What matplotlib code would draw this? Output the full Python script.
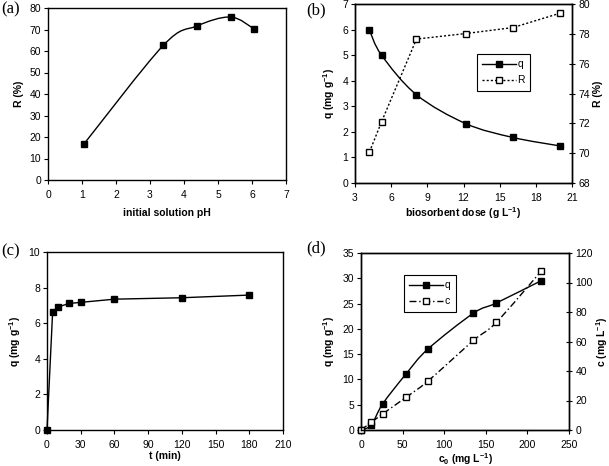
import matplotlib
matplotlib.use("Agg")
import matplotlib.pyplot as plt
from matplotlib.path import Path
from matplotlib.patches import PathPatch
from matplotlib.lines import Line2D
import numpy as np

plt.rcParams['font.family'] = ['Liberation Sans', 'DejaVu Sans']
plt.rcParams['font.size'] = 7.5
plt.rcParams['mathtext.default'] = 'regular'

# (a) effect of pH
ph = [1.06, 3.39, 4.37, 5.37, 6.07]
r_ph = [16.8, 62.6, 71.6, 75.8, 70.2]

# (b) effect of biosorbent dose
dose = [4.2, 5.2, 8.1, 12.2, 16.1, 20.0]
q_dose = [5.98, 5.0, 3.45, 2.32, 1.78, 1.45]
r_dose = [70.08, 72.1, 77.65, 78.02, 78.42, 79.38]

# (c) contact time
t_min = [0, 5, 10, 20, 30, 60, 120, 180]
q_t = [0, 6.62, 6.92, 7.11, 7.17, 7.35, 7.43, 7.58]

# (d) initial concentration
c0 = [0, 12.4, 26.0, 54.2, 80.7, 135.2, 162.5, 216.3]
q_c0 = [0, 1.0, 5.15, 11.1, 16.05, 23.1, 25.1, 29.5]
c_eq = [0, 5.2, 10.9, 22.2, 33.3, 60.7, 72.9, 107.5]


def smooth(ax, x, y, **kw):
    # Excel-like smoothed line, drawn as cubic bezier segments
    x = np.asarray(x, float)
    y = np.asarray(y, float)
    pts = np.column_stack([x, y])
    n = len(pts)
    verts = [pts[0]]
    codes = [Path.MOVETO]
    for i in range(n - 1):
        p0 = pts[i - 1] if i > 0 else pts[i]
        p1 = pts[i]
        p2 = pts[i + 1]
        p3 = pts[i + 2] if i + 2 < n else pts[i + 1]
        c1 = p1 + (p2 - p0) / 6.0
        c2 = p2 - (p3 - p1) / 6.0
        verts += [c1, c2, p2]
        codes += [Path.CURVE4] * 3
    ax.add_patch(PathPatch(Path(verts, codes), fill=False, **kw))


def style(ax):
    for s in ax.spines.values():
        s.set_linewidth(1.0)
    ax.tick_params(direction='out', length=3, width=0.8, pad=2, labelsize=7.5)
    ax.tick_params(axis='x', pad=4)


fig = plt.figure(figsize=(6.09, 4.66), dpi=100)
W, H = 609.0, 466.0


def box(l, r, t, b):
    return [l / W, (H - b) / H, (r - l) / W, (b - t) / H]


ms = 4.6
lab = dict(fontweight='bold', fontsize=7.5)

# ---- (a)
ax = fig.add_axes(box(48, 286, 8, 180))
smooth(ax, ph, r_ph, color='black', lw=1.0)
ax.plot(ph, r_ph, ls='none', marker='s', ms=ms, color='black')
ax.set_xlim(0, 7)
ax.set_ylim(0, 80)
ax.set_xticks(range(0, 8))
ax.set_yticks(range(0, 81, 10))
ax.set_xlabel('initial solution pH', labelpad=6, **lab)
ax.set_ylabel('R (%)', labelpad=4, **lab)
style(ax)

# ---- (b)
ax = fig.add_axes(box(355, 572, 4, 183))
smooth(ax, dose, q_dose, color='black', lw=1.0)
ax.plot(dose, q_dose, ls='none', marker='s', ms=ms, color='black')
ax.set_xlim(3, 21)
ax.set_ylim(0, 7)
ax.set_xticks(range(3, 22, 3))
ax.set_yticks(range(0, 8))
ax.set_xlabel('biosorbent dose (g L$^{-1}$)', labelpad=2, **lab)
ax.set_ylabel('q (mg g$^{-1}$)', labelpad=4, **lab)
style(ax)
ax2 = ax.twinx()
ax2.plot(dose, r_dose, ls=(0, (1.5, 1.5)), lw=1.0, marker='s', ms=ms,
         color='black', mfc='white')
ax2.set_ylim(68, 80)
ax2.set_yticks(range(68, 81, 2))
ax2.set_ylabel('R (%)', labelpad=2, **lab)
style(ax2)
ax2.tick_params(axis='y', direction='inout', length=5)
hq = Line2D([], [], color='black', lw=1.0, marker='s', ms=ms)
hr = Line2D([], [], color='black', lw=1.0, ls=(0, (1.5, 1.5)), marker='s',
            ms=ms, mfc='white')
leg = ax2.legend([hq, hr], ['q', 'R'], loc='upper left',
                 bbox_to_anchor=((477 - 355) / 217.0, 1 - (54 - 4) / 179.0),
                 fancybox=False, framealpha=1, edgecolor='black',
                 handlelength=3.2, handletextpad=0.2, borderpad=0.5,
                 labelspacing=0.6, fontsize=7.5, borderaxespad=0)
leg.get_frame().set_linewidth(0.8)

# ---- (c)
ax = fig.add_axes(box(47, 283, 252, 430))
ax.plot(t_min, q_t, color='black', lw=1.0, marker='s', ms=ms, clip_on=False)
ax.set_xlim(0, 210)
ax.set_ylim(0, 10)
ax.set_xticks(range(0, 211, 30))
ax.set_yticks(range(0, 11, 2))
ax.set_xlabel('t (min)', labelpad=1, **lab)
ax.set_ylabel('q (mg g$^{-1}$)', labelpad=4, **lab)
style(ax)

# ---- (d)
ax = fig.add_axes(box(361, 569, 253, 430))
smooth(ax, c0, q_c0, color='black', lw=1.0)
ax.plot(c0, q_c0, ls='none', marker='s', ms=ms, color='black', clip_on=False)
ax.set_xlim(0, 250)
ax.set_ylim(0, 35)
ax.set_xticks(range(0, 251, 50))
ax.set_yticks(range(0, 36, 5))
ax.set_xlabel('c$_0$ (mg L$^{-1}$)', labelpad=1, **lab)
ax.set_ylabel('q (mg g$^{-1}$)', labelpad=4, **lab)
style(ax)
ax2 = ax.twinx()
dashdot = (0, (5, 2, 1, 2))
smooth(ax2, c0, c_eq, color='black', lw=1.0, ls=dashdot)
ax2.plot(c0, c_eq, ls='none', marker='s', ms=ms, color='black', mfc='white',
         clip_on=False)
ax2.set_ylim(0, 120)
ax2.set_yticks(range(0, 121, 20))
ax2.set_ylabel('c (mg L$^{-1}$)', labelpad=1, **lab)
style(ax2)
ax2.tick_params(axis='y', direction='inout', length=5)
hc = Line2D([], [], color='black', lw=1.0, ls=dashdot, marker='s', ms=ms,
            mfc='white')
leg = ax2.legend([hq, hc], ['q', 'c'], loc='upper left',
                 bbox_to_anchor=((404 - 361) / 208.0, 1 - (275 - 253) / 177.0),
                 fancybox=False, framealpha=1, edgecolor='black',
                 handlelength=3.2, handletextpad=0.2, borderpad=0.5,
                 labelspacing=0.6, fontsize=7.5, borderaxespad=0)
leg.get_frame().set_linewidth(0.8)

# panel letters
pl = dict(family=['Liberation Serif', 'DejaVu Serif'], fontsize=12,
          va='center', ha='left')
fig.text(1 / W, 1 - 9 / H, '(a)', **pl)
fig.text(306 / W, 1 - 10 / H, '(b)', **pl)
fig.text(1 / W, 1 - 251 / H, '(c)', **pl)
fig.text(306 / W, 1 - 248 / H, '(d)', **pl)

fig.savefig('out.png', dpi=100)
